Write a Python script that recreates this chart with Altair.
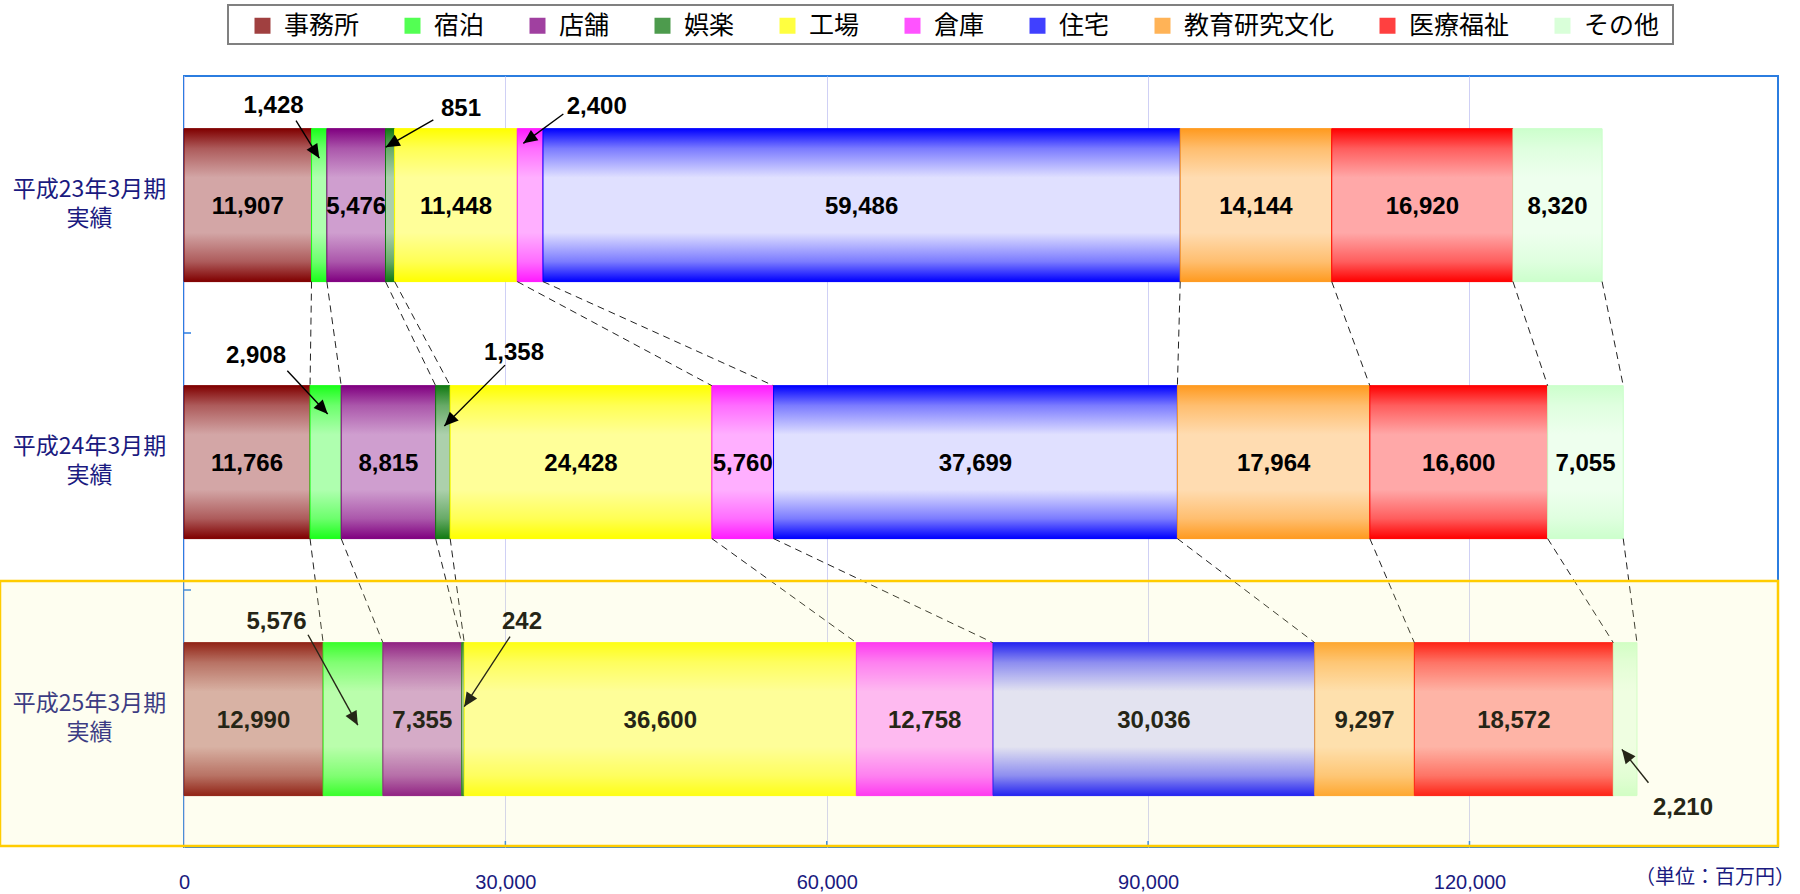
import json
import math
import altair as alt
import pandas as pd

# ---------------- data ----------------
categories = ["事務所", "宿泊", "店舗", "娯楽", "工場", "倉庫", "住宅", "教育研究文化", "医療福祉", "その他"]
period_lines = [["平成23年3月期", "実績"], ["平成24年3月期", "実績"], ["平成25年3月期", "実績"]]
values_h23 = [11907, 1428, 5476, 851, 11448, 2400, 59486, 14144, 16920, 8320]
values_h24 = [11766, 2908, 8815, 1358, 24428, 5760, 37699, 17964, 16600, 7055]
values_h25 = [12990, 5576, 7355, 242, 36600, 12758, 30036, 9297, 18572, 2210]
x_ticks = [0, 30000, 60000, 90000, 120000]
x_max = 148800
unit_label = "（単位：百万円）"

# callouts (values shown outside their thin segments, with arrows)
callout_row = [0, 0, 0, 1, 1, 2, 2, 2]
callout_cat = ["宿泊", "娯楽", "倉庫", "宿泊", "娯楽", "宿泊", "娯楽", "その他"]
callout_label_x = [8365, 25861, 38530, 6722, 30809, 8636, 31556, 139928]
callout_label_y = [0.117, 0.128, 0.121, 0.089, 0.078, 0.125, 0.125, 0.847]
callout_tail_x = [10457, 23275, 35412, 9644, 29969, 11577, 30435, 136707]
callout_tail_y = [0.174, 0.171, 0.148, 0.147, 0.125, 0.174, 0.181, 0.750]
callout_tip_x = [12632, 18831, 31677, 13416, 24302, 16226, 26159, 134223]
callout_tip_y = [0.320, 0.277, 0.262, 0.315, 0.362, 0.526, 0.454, 0.620]

# ---------------- styles ----------------
edge_colors = ["#800000", "#1aff1a", "#800080", "#127a12", "#ffff00", "#ff1aff",
               "#0000ff", "#ff9a1f", "#ff0000", "#ccffcc"]
light_mix = [0.65, 0.65, 0.62, 0.65, 0.60, 0.65, 0.88, 0.65, 0.66, 0.67]
NAVY = "#1a1a80"
W, H = 1594, 771
PAD = {"left": 184, "top": 76, "right": 22, "bottom": 47}


def blend(hex_color, a):
    c = [int(hex_color[i:i + 2], 16) for i in (1, 3, 5)]
    m = [round(v + (255 - v) * a) for v in c]
    return "#%02x%02x%02x" % tuple(m)


rows_values = [values_h23, values_h24, values_h25]
callout_keys = set(zip(callout_row, callout_cat))

recs = []
ends = []
for r, vals in enumerate(rows_values):
    start = 0
    row_ends = []
    for cat, v in zip(categories, vals):
        recs.append(dict(row=r, category=cat, value=v, x0=start, x1=start + v,
                         xm=start + v / 2, label=f"{v:,}",
                         inside=(r, cat) not in callout_keys))
        start += v
        row_ends.append(start)
    ends.append(row_ends)
bars = pd.DataFrame(recs)

conn = pd.DataFrame([dict(row=r, xa=ends[r][k], xb=ends[r + 1][k])
                     for r in range(len(rows_values) - 1) for k in range(len(categories))])

sx = W / x_max
sy = H / len(rows_values)
call_recs = []
for i in range(len(callout_row)):
    r = callout_row[i]
    v = rows_values[r][categories.index(callout_cat[i])]
    dx = (callout_tip_x[i] - callout_tail_x[i]) * sx
    dy = (callout_tip_y[i] - callout_tail_y[i]) * sy
    ang = math.degrees(math.atan2(dx, -dy)) % 360
    call_recs.append(dict(label=f"{v:,}", lx=callout_label_x[i], ly=r + callout_label_y[i],
                          tx=callout_tail_x[i], ty=r + callout_tail_y[i],
                          px=callout_tip_x[i], py=r + callout_tip_y[i], angle=ang))
calls = pd.DataFrame(call_recs)

xscale = alt.Scale(domain=[0, x_max], nice=False, zero=False)
yscale = alt.Scale(domain=[0, len(rows_values)], reverse=True, nice=False, zero=False)

label_expr = json.dumps(period_lines, ensure_ascii=False) + "[floor(datum.value)]"

x_axis = alt.Axis(values=x_ticks, labelExpr="format(datum.value, ',')", title=None,
                  grid=True, gridColor="#cfd0f5", labelFlush=False,
                  gridWidth=1, domain=False, ticks=False, tickSize=0, labelPadding=25,
                  labelFontSize=20, labelColor=NAVY, labelFont="Liberation Sans")
y_axis = alt.Axis(values=[i + 0.5 for i in range(len(rows_values))], labelExpr=label_expr,
                  title=None, grid=False, domain=False, ticks=False, tickSize=0,
                  labelPadding=95, labelAlign="center", labelBaseline="middle",
                  labelOffset=-15, labelFontSize=23, labelLineHeight=29, labelColor=NAVY,
                  labelFont="Noto Sans CJK JP")

base = alt.Chart(bars).transform_calculate(
    y0="datum.row + 0.205", y1="datum.row + 0.8", ym="datum.row + 0.5")

legend = alt.Legend(orient="none", legendX=66, legendY=-63, direction="horizontal",
                    title=None, labelFontSize=25, labelFont="Noto Sans CJK JP",
                    labelColor="black", symbolType="square", symbolSize=256,
                    symbolStrokeWidth=0, labelOffset=9, columnPadding=40, padding=0,
                    labelLimit=400, symbolOpacity=0.75)

bars_base = base.mark_rect().encode(
    x=alt.X("x0:Q", scale=xscale, axis=x_axis),
    x2="x1:Q",
    y=alt.Y("y0:Q", scale=yscale, axis=y_axis),
    y2="y1:Q",
    color=alt.Color("category:N", scale=alt.Scale(domain=categories, range=edge_colors),
                    legend=legend),
)

grad_layers = []
for cat, col, a in zip(categories, edge_colors, light_mix):
    mid = blend(col, a)
    grad = alt.LinearGradient(
        gradient="linear", x1=0, x2=0, y1=0, y2=1,
        stops=[alt.GradientStop(color=col, offset=0),
               alt.GradientStop(color=blend(col, a * 0.55), offset=0.13),
               alt.GradientStop(color=mid, offset=0.32),
               alt.GradientStop(color=mid, offset=0.68),
               alt.GradientStop(color=blend(col, a * 0.55), offset=0.87),
               alt.GradientStop(color=col, offset=1)])
    grad_layers.append(
        base.transform_filter(alt.datum.category == cat)
        .mark_rect(fill=grad, stroke=col, strokeWidth=1)
        .encode(x=alt.X("x0:Q", scale=xscale), x2="x1:Q",
                y=alt.Y("y0:Q", scale=yscale), y2="y1:Q")
    )

connectors = alt.Chart(conn).transform_calculate(
    ya="datum.row + 0.8", yb="datum.row + 1.205"
).mark_rule(color="#222222", strokeWidth=1, strokeDash=[7, 5]).encode(
    x=alt.X("xa:Q", scale=xscale), x2="xb:Q",
    y=alt.Y("ya:Q", scale=yscale), y2="yb:Q")

bar_text = base.transform_filter(alt.datum.inside).mark_text(
    font="Liberation Sans", fontSize=24, fontWeight="bold", color="black",
    baseline="middle", dy=2
).encode(x=alt.X("xm:Q", scale=xscale), y=alt.Y("ym:Q", scale=yscale), text="label:N")

arrow_lines = alt.Chart(calls).mark_rule(color="black", strokeWidth=1.4).encode(
    x=alt.X("tx:Q", scale=xscale), x2="px:Q",
    y=alt.Y("ty:Q", scale=yscale), y2="py:Q")

arrow_heads = alt.Chart(calls).mark_point(
    shape="M0,0L-0.45,1L0.45,1Z", filled=True, size=784, color="black", opacity=1,
    strokeWidth=0
).encode(x=alt.X("px:Q", scale=xscale), y=alt.Y("py:Q", scale=yscale),
         angle=alt.Angle("angle:Q", scale=None))

call_text = alt.Chart(calls).mark_text(
    font="Liberation Sans", fontSize=24, fontWeight="bold", color="black", baseline="middle"
).encode(x=alt.X("lx:Q", scale=xscale), y=alt.Y("ly:Q", scale=yscale), text="label:N")

bounds = pd.DataFrame({"b": list(range(1, len(rows_values)))})
y_ticks = alt.Chart(bounds).mark_rule(color="#2b7de0", strokeWidth=1.5).encode(
    y=alt.Y("b:Q", scale=yscale), x=alt.value(0), x2=alt.value(7))

xt = pd.DataFrame({"t": x_ticks[1:]})
x_tick_marks = alt.Chart(xt).mark_rule(color="#2b7de0", strokeWidth=1.5).encode(
    x=alt.X("t:Q", scale=xscale), y=alt.value(H), y2=alt.value(H - 6))

one = pd.DataFrame({"a": [0]})
highlight = alt.Chart(one).mark_rect(
    fill="#f7f799", fillOpacity=0.15, stroke="#ffcc00", strokeWidth=2.5
).encode(x=alt.value(-PAD["left"]), x2=alt.value(W), y=alt.value(505), y2=alt.value(770))

legend_box = alt.Chart(one).mark_rect(
    fill="white", stroke="#808080", strokeWidth=2
).encode(x=alt.value(44), x2=alt.value(1489), y=alt.value(-71), y2=alt.value(-32))

unit_text = alt.Chart(one).mark_text(
    font="Noto Sans CJK JP", fontSize=20, color=NAVY, baseline="middle"
).encode(x=alt.value(1531), y=alt.value(802), text=alt.value(unit_label))

chart = alt.layer(
    legend_box, bars_base, *grad_layers, connectors, bar_text,
    arrow_lines, arrow_heads, call_text, y_ticks, x_tick_marks, highlight, unit_text
).properties(
    width=W, height=H, autosize=alt.AutoSizeParams(type="none"), padding=PAD,
    background="white"
).configure_view(stroke="#2b7de0", strokeWidth=2)

chart.save("out.html", embed_options={"renderer": "svg", "actions": False})
